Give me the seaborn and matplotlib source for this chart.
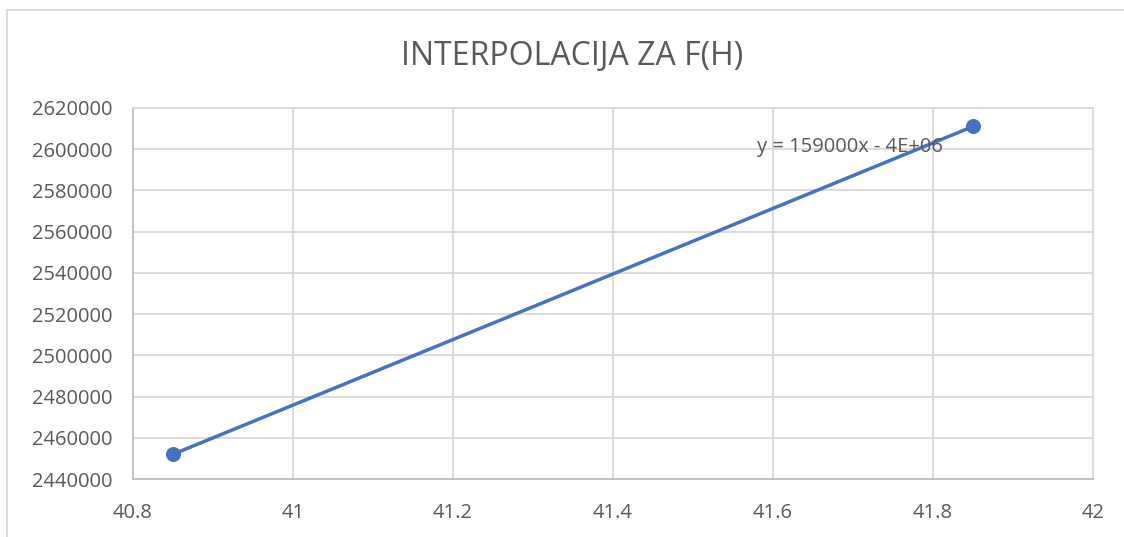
import matplotlib
matplotlib.use("Agg")
import matplotlib.pyplot as plt
import pandas as pd
import seaborn as sns
from matplotlib.lines import Line2D

# data
h_values = [40.85, 41.85]
f_values = [2452000, 2611000]
x_ticks = [40.8, 41, 41.2, 41.4, 41.6, 41.8, 42]
y_ticks = [2440000, 2460000, 2480000, 2500000, 2520000, 2540000, 2560000, 2580000, 2600000, 2620000]
title = "INTERPOLACIJA ZA F(H)"
trend_label = "y = 159000x - 4E+06"

df = pd.DataFrame({"h": h_values, "f": f_values})

sns.set_style("white")
plt.rcParams["font.family"] = ["Open Sans", "DejaVu Sans"]

text_col = "#595959"
grid_col = "#D9D9D9"
blue = "#4472C4"

fig = plt.figure(figsize=(11.24, 5.37), dpi=100)
ax = fig.add_axes([0.1183, 0.108, 0.9724 - 0.1183, 0.799 - 0.108])

sns.lineplot(data=df, x="h", y="f", ax=ax, color=blue, linewidth=2.5,
             marker="o", markersize=10, markeredgecolor=blue)

ax.set_xlim(40.8, 42)
ax.set_ylim(2440000, 2620000)
ax.set_xticks(x_ticks)
ax.set_xticklabels([f"{t:g}" for t in x_ticks])
ax.set_yticks(y_ticks)
ax.set_yticklabels([str(t) for t in y_ticks])
ax.grid(True, color=grid_col, linewidth=1.3)
ax.set_axisbelow(True)
for side in ["top", "right"]:
    ax.spines[side].set_color(grid_col)
    ax.spines[side].set_linewidth(1.3)
for side in ["left", "bottom"]:
    ax.spines[side].set_color("#BFBFBF")
    ax.spines[side].set_linewidth(1.3)
ax.tick_params(axis="both", colors=text_col, labelsize=14.5, length=0)
ax.tick_params(axis="y", pad=15)
ax.tick_params(axis="x", pad=17)
ax.set_xlabel("")
ax.set_ylabel("")

ax.text(41.696, 2601000, trend_label, color=text_col, fontsize=14.5,
        ha="center", va="center")

fig.text(0.509, 0.894, title, color=text_col, fontsize=23, ha="center", va="center")

# chart frame
fig.add_artist(Line2D([7 / 1124, 7 / 1124], [0, 1 - 10 / 537], color=grid_col,
                      linewidth=1.3, transform=fig.transFigure))
fig.add_artist(Line2D([7 / 1124, 1], [1 - 10 / 537, 1 - 10 / 537], color=grid_col,
                      linewidth=1.3, transform=fig.transFigure))

fig.savefig("out.png", dpi=100)
